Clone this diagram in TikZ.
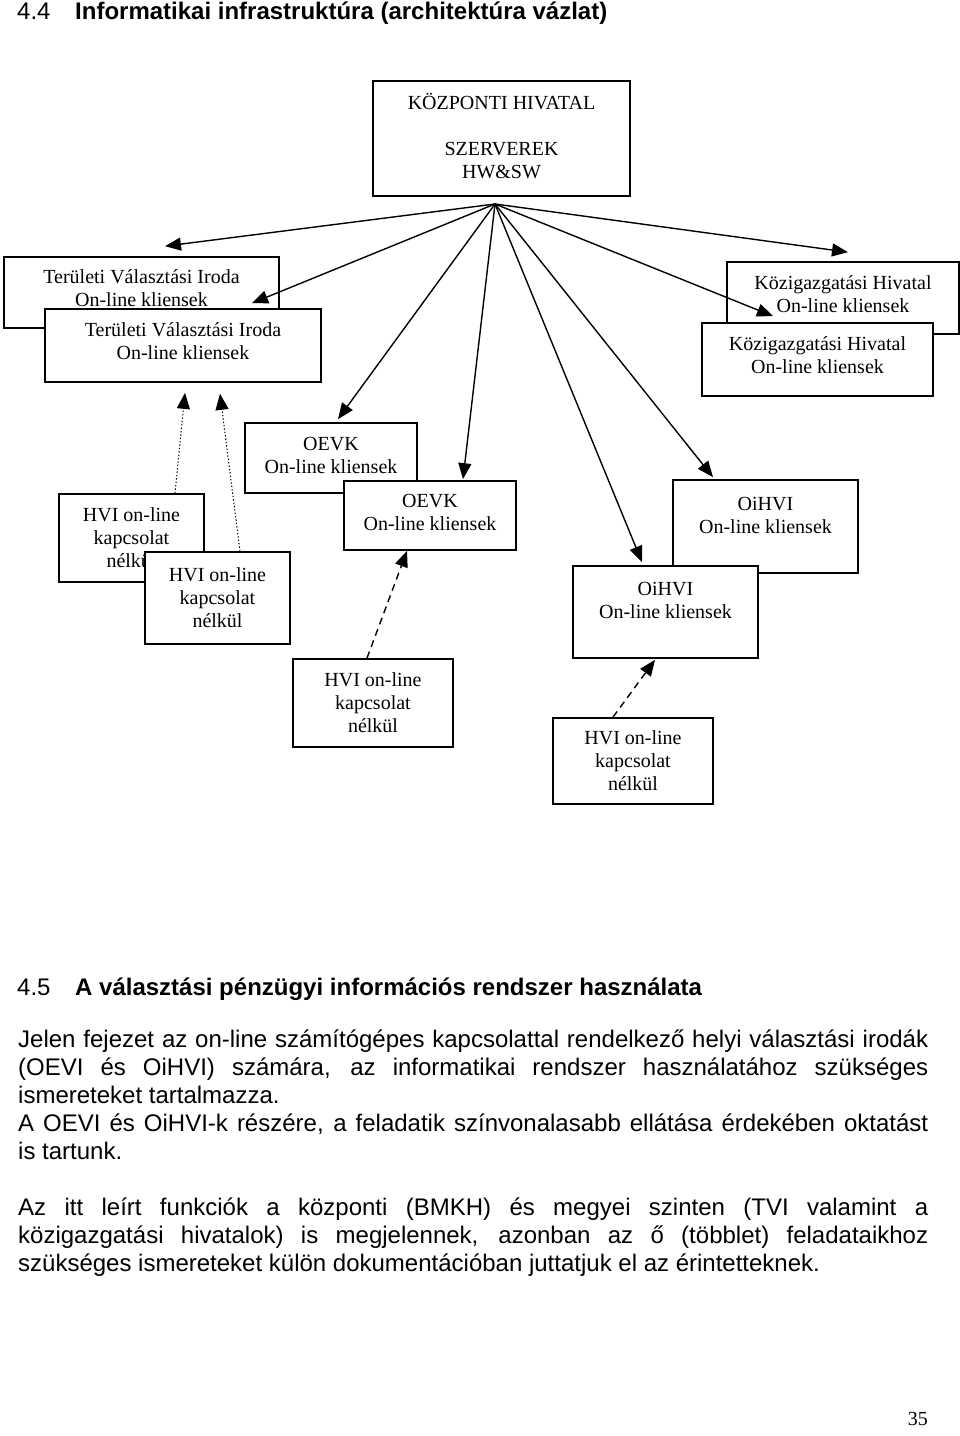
\documentclass[tikz,border=0pt]{standalone}
\usepackage{fontspec}
\setmainfont{Liberation Serif}
\setsansfont{Liberation Sans}
\usetikzlibrary{arrows.meta,calc,positioning}

\newcommand{\boxstrut}[1]{\rule[-#1]{0pt}{0pt}}

\begin{document}
\begin{tikzpicture}[x=1pt,y=-1pt]

  \tikzstyle{every node}=[font=\fontsize{20}{23}\selectfont]

  \tikzset{box/.style={draw, line width=1.7pt, fill=white, align=center, inner sep=0pt}}
  \tikzset{myptr/.style={line width=1.4pt, -{Triangle[length=16pt,width=13pt]}}}
  \tikzset{offptr/.style={myptr, dotted, line width=1pt}}
  \tikzset{dashptr/.style={myptr, dash pattern=on 7pt off 5pt}}
  \tikzset{headnum/.style={font=\sffamily\fontsize{24}{28}\selectfont, anchor=base west, inner sep=0pt}}
  \tikzset{headtitle/.style={headnum, font=\sffamily\bfseries\fontsize{24}{28}\selectfont}}
  \tikzset{body/.style={font=\sffamily\fontsize{24}{28}\selectfont, anchor=base west, inner sep=0pt,
      text width=910pt, align=justify,
      execute at begin node={\hyphenpenalty=10000 \exhyphenpenalty=10000 \tolerance=10000}}}

  \useasboundingbox (0,0) rectangle (960,1436);

  % Section title
  \node[headnum] (num44) at (17,19) {4.4};
  \node[headtitle] (title44) at (75,19) {Informatikai infrastruktúra (architektúra vázlat)};

  % Central office
  \node[box, minimum width=257pt, minimum height=115pt] (Kozpont) at (501.5,138.5)
    {KÖZPONTI HIVATAL\\[23pt]SZERVEREK\\HW\&SW\boxstrut{5pt}};
  \coordinate (hub) at (495,204);

  % Back boxes
  \node[box, minimum width=275pt, minimum height=71pt] (TVI back) at (141.5,292.5)
    {Területi Választási Iroda\\On-line kliensek\boxstrut{8pt}};
  \node[box, minimum width=232pt, minimum height=72pt] (KH back) at (843,298)
    {Közigazgatási Hivatal\\On-line kliensek\boxstrut{8pt}};
  \node[box, minimum width=172pt, minimum height=70pt] (OEVK back) at (331,458)
    {OEVK\\On-line kliensek\boxstrut{6pt}};
  \node[box, minimum width=145pt, minimum height=88pt] (HVI back) at (131.5,538)
    {HVI on-line\\kapcsolat\\nélkül};
  \node[box, minimum width=185pt, minimum height=93pt] (OiHVI back) at (765.5,526.5)
    {OiHVI\\On-line kliensek\\\mbox{}};

  % Front boxes
  \node[box, minimum width=276pt, minimum height=73pt] (TVI front) at (183,345.5)
    {Területi Választási Iroda\\On-line kliensek\boxstrut{8pt}};
  \node[box, minimum width=231pt, minimum height=73pt] (KH front) at (817.5,359.5)
    {Közigazgatási Hivatal\\On-line kliensek\boxstrut{8pt}};
  \node[box, minimum width=172pt, minimum height=69pt] (OEVK front) at (430,515.5)
    {OEVK\\On-line kliensek\boxstrut{6pt}};
  \node[box, minimum width=145pt, minimum height=92pt] (HVI front) at (217.5,598)
    {HVI on-line\\kapcsolat\\nélkül};
  \node[box, minimum width=185pt, minimum height=92pt] (OiHVI front) at (665.5,612)
    {OiHVI\\On-line kliensek\\\mbox{}};

  % Offline boxes
  \node[box, minimum width=160pt, minimum height=88pt] (HVI mid) at (373,703)
    {HVI on-line\\kapcsolat\\nélkül};
  \node[box, minimum width=160pt, minimum height=86pt] (HVI right) at (633,761)
    {HVI on-line\\kapcsolat\\nélkül};

  % Online connections
  \draw[myptr] (hub) -- ($(TVI back.north) + (23.5,-10)$);
  \draw[myptr] (hub) -- ($(TVI front.north) + (69,-5)$);
  \draw[myptr] (hub) -- ($(OEVK back.north) + (7,-3)$);
  \draw[myptr] (hub) -- ($(OEVK front.north) + (33,-1)$);
  \draw[myptr] (hub) -- ($(OiHVI front.north) + (-23.5,-3)$);
  \draw[myptr] (hub) -- ($(OiHVI back.north) + (-52.5,-2)$);
  \draw[myptr] (hub) -- ($(KH front.north) + (-44.5,-6)$);
  \draw[myptr] (hub) -- ($(KH back.north) + (5,-9)$);

  % Offline connections
  \draw[offptr] ($(HVI back.north) + (43.5,0)$) -- ($(TVI front.south) + (2,10)$);
  \draw[offptr] ($(HVI front.north) + (22.5,0)$) -- ($(TVI front.south) + (37,11)$);
  \draw[dashptr] ($(HVI mid.north) + (-6,0)$) -- ($(OEVK front.south) + (-23,0)$);
  \draw[dashptr] ($(HVI right.north) + (-20,0)$) -- ($(OiHVI front.south) + (-10.5,1)$);

  % Next section
  \node[headnum] (num45) at (17,995) {4.5};
  \node[headtitle] (title45) at (75,995) {A választási pénzügyi információs rendszer használata};

  \node[body] (para1) at (18,1047)
    {Jelen fejezet az on-line számítógépes kapcsolattal rendelkező helyi választási irodák\linebreak
     (OEVI és OiHVI) számára, az informatikai rendszer használatához szükséges\linebreak
     ismereteket tartalmazza.\\
     A OEVI és OiHVI-k részére, a feladatik színvonalasabb ellátása érdekében oktatást\linebreak
     is tartunk.};
  \node[body] (para2) at (18,1215)
    {Az itt leírt funkciók a központi (BMKH) és megyei szinten (TVI valamint a\linebreak
     közigazgatási hivatalok) is megjelennek, azonban az ő (többlet) feladataikhoz\linebreak
     szükséges ismereteket külön dokumentációban juttatjuk el az érintetteknek.};

  % Page number
  \node[anchor=base east, inner sep=0pt] (page) at (928,1425) {35};

\end{tikzpicture}
\end{document}
